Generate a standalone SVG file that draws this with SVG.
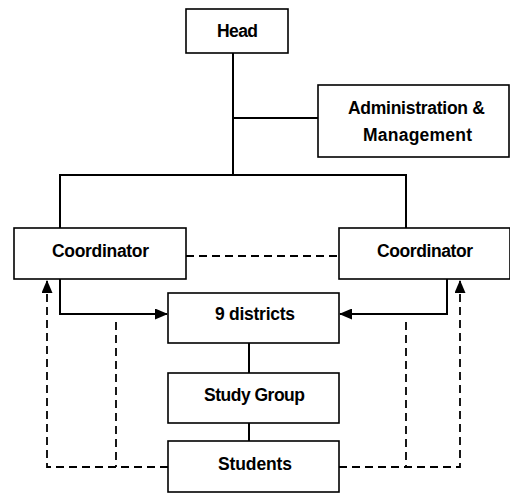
<svg xmlns="http://www.w3.org/2000/svg" width="510" height="493" viewBox="0 0 510 493">
<defs>
<marker id="ah" markerWidth="13" markerHeight="11" refX="12" refY="5.5" orient="auto" markerUnits="userSpaceOnUse">
<path d="M0,0 L13,5.5 L0,11 Z" fill="#000"/>
</marker>
<style>
.box{fill:#fff;stroke:#000;stroke-width:1.6}
.t{font-family:"Liberation Sans",Arial,sans-serif;font-weight:bold;font-size:17.5px;text-anchor:middle;fill:#000}
.ln{fill:none;stroke:#000;stroke-width:2}
.ds{fill:none;stroke:#000;stroke-width:1.8;stroke-dasharray:8,5}
</style>
</defs>
<rect width="510" height="493" fill="#fff"/>
<g id="connectors">
<path class="ln" d="M233,53 V175"/>
<path class="ln" d="M233,118 H318"/>
<path class="ln" d="M60,228 V175 H406 V228"/>
<path class="ds" d="M186,256 H339"/>
<path class="ln" d="M60,279 V314 H167" marker-end="url(#ah)"/>
<path class="ln" d="M447,279 V314 H340" marker-end="url(#ah)"/>
<path class="ln" d="M249,343 V373"/>
<path class="ln" d="M249,423 V441"/>
<path class="ds" d="M168,467 H47 V281" marker-end="url(#ah)"/>
<path class="ds" d="M116,322 V467"/>
<path class="ds" d="M339,467 H460 V281" marker-end="url(#ah)"/>
<path class="ds" d="M406,322 V467"/>
</g>
<g id="head"><rect class="box" x="186" y="9" width="102" height="44"/><text class="t" x="237.5" y="37" textLength="41" lengthAdjust="spacing">Head</text></g>
<g id="admin"><rect class="box" x="318" y="85" width="191" height="72"/><text class="t" x="416.5" y="114" textLength="137" lengthAdjust="spacing">Administration &amp;</text><text class="t" x="417.5" y="141" textLength="109" lengthAdjust="spacing">Management</text></g>
<g id="coord-left"><rect class="box" x="14" y="228" width="172" height="51"/><text class="t" x="100.5" y="257" textLength="97" lengthAdjust="spacing">Coordinator</text></g>
<g id="coord-right"><rect class="box" x="339" y="228" width="171" height="51"/><text class="t" x="425" y="257" textLength="96" lengthAdjust="spacing">Coordinator</text></g>
<g id="districts"><rect class="box" x="168" y="293" width="171" height="50"/><text class="t" x="255" y="320" textLength="80" lengthAdjust="spacing">9 districts</text></g>
<g id="study-group"><rect class="box" x="168" y="373" width="171" height="50"/><text class="t" x="254.5" y="401" textLength="101" lengthAdjust="spacing">Study Group</text></g>
<g id="students"><rect class="box" x="168" y="441" width="171" height="51"/><text class="t" x="255" y="470" textLength="74" lengthAdjust="spacing">Students</text></g>
</svg>
